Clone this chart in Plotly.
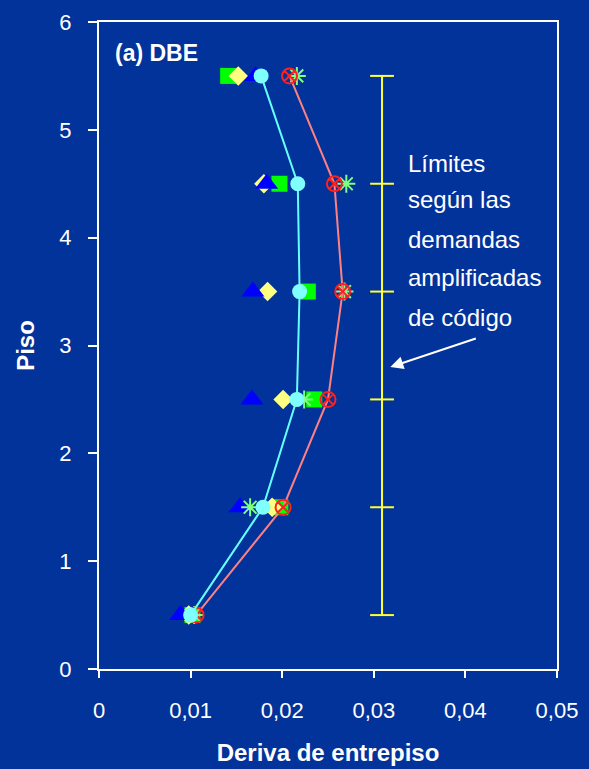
import plotly.graph_objects as go

pisos = [0.5, 1.5, 2.5, 3.5, 4.5, 5.5]

triangulos_azules = [0.0089, 0.0154, 0.0167, 0.0168, 0.0183, 0.0171]
cuadrados_verdes = [0.0102, 0.0198, 0.0235, 0.0228, 0.0197, 0.0141]
rombos_amarillos = [0.0098, 0.0189, 0.0201, 0.0184, 0.0180, 0.0152]
asteriscos_verdes = [0.0104, 0.0165, 0.0224, 0.0268, 0.0270, 0.0216]
media = [0.0100, 0.0179, 0.0216, 0.0219, 0.0217, 0.0177]
media_mas_sigma = [0.0106, 0.0201, 0.0250, 0.0266, 0.0257, 0.0208]
limite_codigo = [0.0309] * 6

x_ticks = [0, 0.01, 0.02, 0.03, 0.04, 0.05]
x_labels = ["0", "0,01", "0,02", "0,03", "0,04", "0,05"]

nota_lineas = ["Límites", "según las", "demandas", "amplificadas", "de código"]
nota_y = [4.69, 4.35, 3.98, 3.63, 3.26]

BG = "#02339a"
FONT = "Liberation Sans, Arial, sans-serif"

fig = go.Figure()

fig.add_trace(go.Scatter(x=limite_codigo, y=pisos, mode="lines+markers",
                         line=dict(color="#ffff33", width=2),
                         marker=dict(symbol="line-ew", size=17, color="#ffff33",
                                     line=dict(color="#ffff33", width=2))))
fig.add_trace(go.Scatter(x=cuadrados_verdes, y=pisos, mode="markers",
                         marker=dict(symbol="square", size=16, color="#00ff00")))
fig.add_trace(go.Scatter(x=rombos_amarillos, y=pisos, mode="markers",
                         marker=dict(symbol="diamond", size=15, color="#ffff80")))
fig.add_trace(go.Scatter(x=triangulos_azules, y=pisos, mode="markers",
                         marker=dict(symbol="triangle-up", size=20, color="#0000ff")))
fig.add_trace(go.Scatter(x=asteriscos_verdes, y=pisos, mode="markers",
                         marker=dict(symbol="asterisk-open", size=15, color="#80ff80",
                                     line=dict(color="#80ff80", width=2))))
fig.add_trace(go.Scatter(x=media_mas_sigma, y=pisos, mode="lines+markers",
                         line=dict(color="#ff8080", width=2),
                         marker=dict(symbol="circle-x-open", size=15, color="#ff2020",
                                     line=dict(color="#ff2020", width=2))))
fig.add_trace(go.Scatter(x=media, y=pisos, mode="lines+markers",
                         line=dict(color="#66ffff", width=2),
                         marker=dict(symbol="circle", size=15, color="#80ffff")))

fig.add_annotation(x=0.0015, y=5.71, xref="x", yref="y", text="<b>(a) DBE</b>",
                   showarrow=False, xanchor="left", yanchor="middle",
                   font=dict(size=23, color="white", family=FONT))
for linea, yy in zip(nota_lineas, nota_y):
    fig.add_annotation(x=0.0335, y=yy, xref="x", yref="y", text=linea,
                       showarrow=False, xanchor="left", yanchor="middle", align="left",
                       font=dict(size=24, color="white", family=FONT))
fig.add_annotation(x=0.0318, y=2.80, ax=0.0413, ay=3.07, xref="x", yref="y",
                   axref="x", ayref="y", text="", showarrow=True,
                   arrowhead=2, arrowsize=1.3, arrowwidth=2, arrowcolor="white")

fig.update_layout(
    width=589, height=769,
    paper_bgcolor=BG, plot_bgcolor=BG,
    margin=dict(l=99, r=32, t=22, b=100),
    showlegend=False,
    font=dict(family=FONT, color="white", size=22),
)
fig.update_xaxes(range=[0, 0.05], tickvals=x_ticks, ticktext=x_labels,
                 showgrid=False, zeroline=False, showline=True, linecolor="white",
                 linewidth=2, mirror=True, ticks="outside", tickcolor="white",
                 ticklen=7, tickwidth=2, ticklabelstandoff=14, automargin=False,
                 title=dict(text="<b>Deriva de entrepiso</b>", font=dict(size=24), standoff=22))
fig.update_yaxes(range=[0, 6], dtick=1, showgrid=False, zeroline=False,
                 showline=True, linecolor="white", linewidth=2, mirror=True,
                 ticks="outside", tickcolor="white", ticklen=9, tickwidth=2,
                 ticklabelstandoff=12, automargin=False,
                 title=dict(text="<b>Piso</b>", font=dict(size=24), standoff=18))

fig.write_html("out.html", config={"displayModeBar": False},
               post_script="document.body.style.margin='0';")
